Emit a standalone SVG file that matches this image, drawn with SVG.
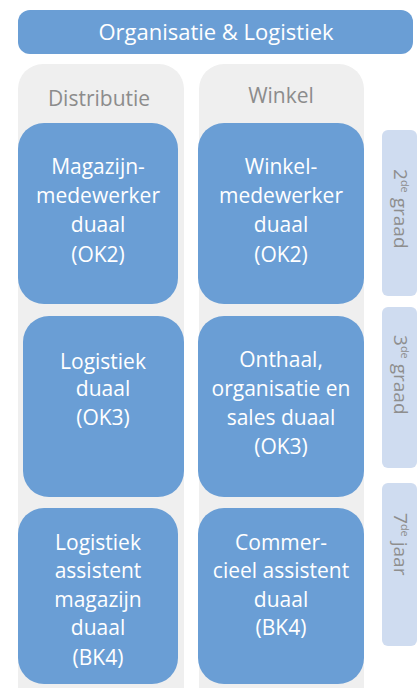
<svg xmlns="http://www.w3.org/2000/svg" width="419" height="688" viewBox="0 0 419 688">
<style>
.node rect{fill:#6a9ed5}
.node text{fill:#ffffff;font-family:"Open Sans","Noto Sans",sans-serif;font-size:21px;font-weight:500;text-anchor:middle}
#header text{font-size:22px}
.col rect{fill:#efefef}
.col text{fill:#8c8c8c;font-family:"Open Sans","Noto Sans",sans-serif;font-size:21px;font-weight:500;text-anchor:middle}
.lvl rect{fill:#cfdcf0}
.lvl text{fill:#8e8e8e;font-family:"Open Sans","Noto Sans",sans-serif;font-size:19px;font-weight:500}
.lvl .sup{font-size:11px}
</style>
<rect width="419" height="688" fill="#ffffff"/>
<g id="header" class="node">
<rect x="18" y="10" width="395" height="44" rx="12"/>
<text x="216" y="40">Organisatie &amp; Logistiek</text>
</g>
<g id="col-distributie" class="col">
<rect x="18" y="64" width="166" height="650" rx="25"/>
<text x="99" y="106">Distributie</text>
</g>
<g id="col-winkel" class="col">
<rect x="199" y="64" width="165" height="650" rx="25"/>
<text x="281" y="103">Winkel</text>
</g>
<g id="n-magazijn" class="node">
<rect x="18" y="123" width="160" height="181" rx="26"/>
<text x="98" y="174">Magazijn-</text>
<text x="98" y="203">medewerker</text>
<text x="98" y="232">duaal</text>
<text x="98" y="262">(OK2)</text>
</g>
<g id="n-winkel" class="node">
<rect x="198" y="123" width="166" height="181" rx="26"/>
<text x="281" y="174">Winkel-</text>
<text x="281" y="203">medewerker</text>
<text x="281" y="232">duaal</text>
<text x="281" y="262">(OK2)</text>
</g>
<g id="n-logistiek" class="node">
<rect x="23" y="316" width="161" height="181" rx="26"/>
<text x="103" y="369">Logistiek</text>
<text x="103" y="396">duaal</text>
<text x="103" y="425">(OK3)</text>
</g>
<g id="n-onthaal" class="node">
<rect x="198" y="316" width="166" height="181" rx="26"/>
<text x="281" y="367">Onthaal,</text>
<text x="281" y="396">organisatie en</text>
<text x="281" y="425">sales duaal</text>
<text x="281" y="454">(OK3)</text>
</g>
<g id="n-logassist" class="node">
<rect x="18" y="508" width="160" height="176" rx="26"/>
<text x="98" y="550">Logistiek</text>
<text x="98" y="578">assistent</text>
<text x="98" y="607">magazijn</text>
<text x="98" y="635">duaal</text>
<text x="98" y="665">(BK4)</text>
</g>
<g id="n-commer" class="node">
<rect x="198" y="508" width="166" height="176" rx="26"/>
<text x="281" y="550">Commer-</text>
<text x="281" y="578">cieel assistent</text>
<text x="281" y="607">duaal</text>
<text x="281" y="635">(BK4)</text>
</g>
<g id="lvl-2" class="lvl">
<rect x="382" y="130" width="35" height="166" rx="6"/>
<text transform="translate(394 169) rotate(90)">2<tspan class="sup" dy="-7">de</tspan><tspan dy="7"> graad</tspan></text>
</g>
<g id="lvl-3" class="lvl">
<rect x="382" y="307" width="35" height="161" rx="6"/>
<text transform="translate(394 335) rotate(90)">3<tspan class="sup" dy="-7">de</tspan><tspan dy="7"> graad</tspan></text>
</g>
<g id="lvl-7" class="lvl">
<rect x="382" y="483" width="35" height="163" rx="6"/>
<text transform="translate(394 513) rotate(90)">7<tspan class="sup" dy="-7">de</tspan><tspan dy="7"> jaar</tspan></text>
</g>
</svg>
